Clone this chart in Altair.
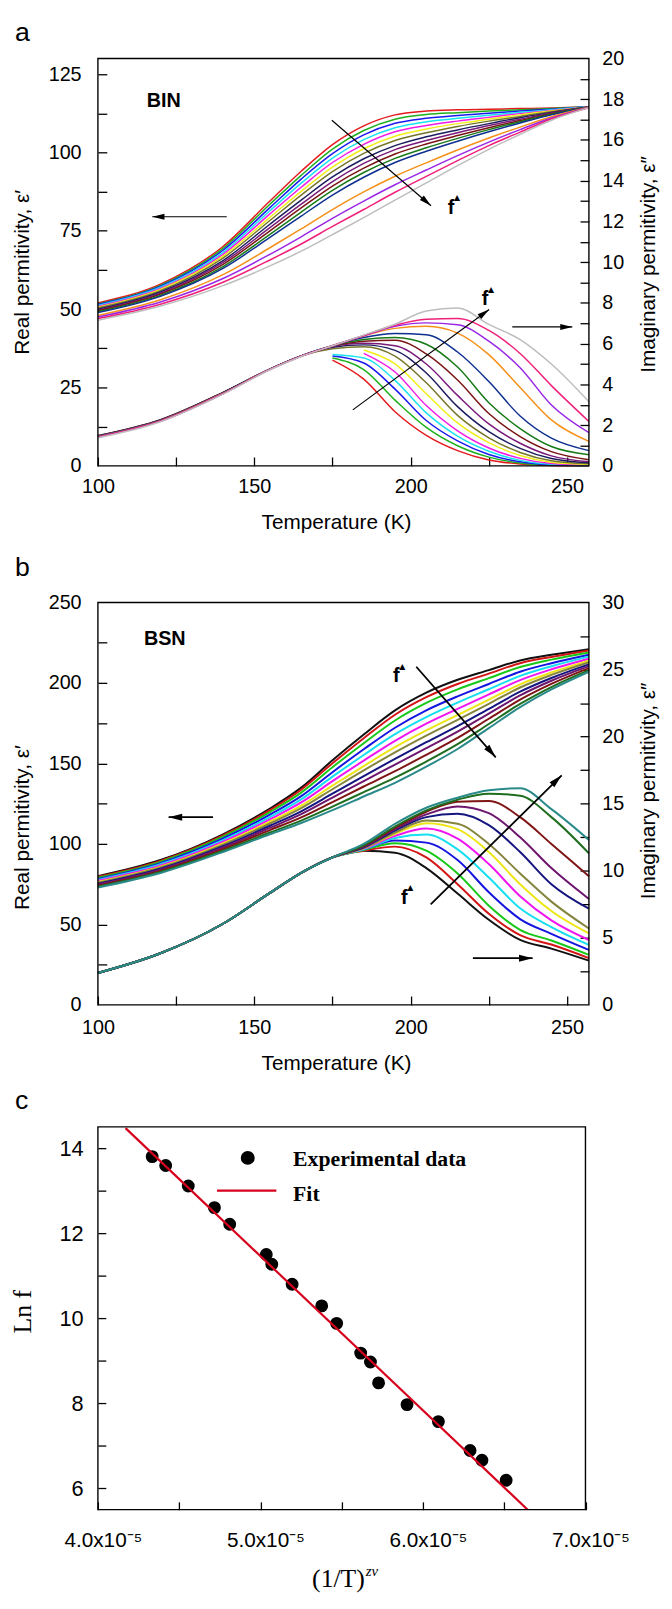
import altair as alt
import pandas as pd

# ---------------- data ----------------
T_GRID = [100, 120, 140, 155, 165, 175, 185, 195, 205, 215, 225, 235, 245, 257]

A_COLORS = ["#e41a1c", "#1fb01f", "#1a1af0", "#19e3f0", "#f01ae6", "#f2ee1a",
            "#76762a", "#1c1c60", "#7a1a7a", "#7a1414", "#177a17", "#0d2f8f",
            "#f5901a", "#9a26e6", "#f0207a", "#bdbdbd"]

A_REAL = [
    [52.0, 58.0, 70.0, 84.5, 94.0, 102.5, 108.5, 112.0, 113.2, 113.6, 113.8, 114.0, 114.2, 114.6],
    [51.7, 57.6, 69.4, 83.5, 92.7, 101.1, 107.0, 110.6, 112.1, 112.7, 113.2, 113.6, 114.0, 114.6],
    [51.5, 57.3, 68.8, 82.4, 91.5, 99.6, 105.6, 109.3, 110.9, 111.8, 112.5, 113.2, 113.8, 114.6],
    [51.2, 57.0, 68.1, 81.4, 90.2, 98.2, 104.1, 107.9, 109.8, 110.9, 111.9, 112.8, 113.6, 114.6],
    [50.9, 56.6, 67.5, 80.4, 88.9, 96.8, 102.6, 106.6, 108.6, 110.0, 111.2, 112.4, 113.4, 114.5],
    [50.6, 56.3, 66.9, 79.3, 87.6, 95.3, 101.2, 105.2, 107.5, 109.2, 110.6, 112.0, 113.2, 114.5],
    [50.4, 55.9, 66.3, 78.3, 86.4, 93.9, 99.7, 103.8, 106.3, 108.3, 110.0, 111.5, 113.0, 114.5],
    [50.0, 55.5, 65.5, 77.1, 84.8, 92.2, 98.0, 102.2, 105.0, 107.2, 109.2, 111.1, 112.8, 114.5],
    [49.7, 55.1, 64.9, 76.0, 83.5, 90.7, 96.5, 100.9, 103.8, 106.3, 108.6, 110.6, 112.6, 114.5],
    [49.5, 54.8, 64.3, 75.0, 82.3, 89.3, 95.0, 99.5, 102.7, 105.4, 107.9, 110.2, 112.4, 114.5],
    [49.2, 54.4, 63.6, 73.9, 81.0, 87.9, 93.6, 98.1, 101.5, 104.5, 107.3, 109.8, 112.2, 114.4],
    [48.9, 54.1, 63.0, 72.9, 79.7, 86.4, 92.1, 96.8, 100.4, 103.6, 106.6, 109.4, 112.0, 114.4],
    [48.0, 53.0, 61.0, 69.6, 75.6, 81.8, 87.4, 92.4, 96.7, 100.8, 104.6, 108.1, 111.4, 114.4],
    [47.5, 52.3, 59.8, 67.5, 73.1, 79.0, 84.5, 89.7, 94.4, 99.0, 103.3, 107.3, 111.0, 114.4],
    [47.0, 51.6, 58.6, 65.7, 70.8, 76.4, 81.8, 87.3, 92.4, 97.4, 102.2, 106.5, 110.7, 114.3],
    [46.5, 51.0, 57.5, 63.8, 68.5, 73.8, 79.2, 84.8, 90.3, 95.8, 101.0, 105.8, 110.3, 114.3],
]

# low-frequency loss curves start near their maxima (None = no reading)
A_IMAG = [
    [None, None, None, None, None, 5.19, 4.26, 2.66, 1.50, 0.75, 0.29, 0.09, 0.02, 0.00],
    [None, None, None, None, None, 5.30, 4.73, 3.23, 1.89, 0.99, 0.43, 0.14, 0.04, 0.01],
    [None, None, None, None, None, 5.39, 5.05, 3.77, 2.23, 1.23, 0.56, 0.20, 0.06, 0.02],
    [None, None, None, None, None, 5.47, 5.30, 4.20, 2.60, 1.46, 0.72, 0.27, 0.08, 0.03],
    [None, None, None, None, None, None, 5.52, 4.61, 2.96, 1.72, 0.88, 0.37, 0.12, 0.05],
    [None, None, None, None, None, None, 5.69, 5.01, 3.54, 2.11, 1.14, 0.51, 0.18, 0.07],
    [1.49, 2.27, 3.61, 4.75, 5.39, 5.75, 5.85, 5.39, 4.08, 2.48, 1.38, 0.66, 0.25, 0.10],
    [1.48, 2.26, 3.60, 4.75, 5.40, 5.82, 5.94, 5.67, 4.56, 2.91, 1.68, 0.86, 0.36, 0.15],
    [1.47, 2.25, 3.60, 4.75, 5.40, 5.86, 6.02, 5.90, 5.00, 3.46, 2.06, 1.11, 0.49, 0.20],
    [1.46, 2.24, 3.59, 4.75, 5.40, 5.88, 6.12, 6.17, 5.50, 4.22, 2.57, 1.44, 0.70, 0.30],
    [1.45, 2.23, 3.58, 4.75, 5.40, 5.90, 6.20, 6.30, 5.97, 4.85, 3.10, 1.83, 0.95, 0.55],
    [1.44, 2.22, 3.57, 4.75, 5.40, 5.90, 6.30, 6.50, 6.44, 5.59, 4.14, 2.45, 1.36, 0.75],
    [1.43, 2.21, 3.56, 4.74, 5.39, 5.90, 6.38, 6.75, 6.85, 6.52, 5.46, 3.85, 2.26, 1.20],
    [1.42, 2.20, 3.55, 4.74, 5.39, 5.90, 6.39, 6.85, 7.02, 6.93, 6.12, 4.82, 2.99, 1.63],
    [1.41, 2.19, 3.54, 4.73, 5.38, 5.90, 6.40, 6.90, 7.20, 7.23, 6.65, 5.52, 3.94, 2.18],
    [1.38, 2.17, 3.52, 4.72, 5.37, 5.90, 6.42, 6.95, 7.60, 7.75, 6.95, 6.20, 5.00, 3.15],
]

B_COLORS = ["#111111", "#d41515", "#18c818", "#1515e0", "#15dff0", "#f015f0",
            "#eee515", "#84843c", "#15157f", "#6e166e", "#7f1515", "#1f6e1f", "#2a8a8a"]

B_REAL = [
    [80.0, 90.0, 106.0, 122.0, 135.0, 152.0, 168.0, 183.0, 194.0, 202.0, 208.0, 214.0, 217.5, 221.0],
    [79.6, 89.5, 105.3, 121.0, 133.7, 150.1, 165.7, 180.3, 191.2, 199.4, 205.8, 212.3, 216.2, 220.2],
    [79.0, 88.9, 104.5, 119.8, 131.9, 147.7, 162.6, 176.7, 187.6, 196.0, 203.0, 209.9, 214.5, 219.0],
    [78.3, 88.1, 103.4, 118.2, 129.7, 144.6, 158.8, 172.2, 183.0, 191.7, 199.4, 207.0, 212.3, 217.6],
    [77.7, 87.4, 102.4, 116.7, 127.7, 141.8, 155.3, 168.2, 178.8, 187.8, 196.1, 204.4, 210.4, 216.4],
    [77.1, 86.6, 101.4, 115.3, 125.8, 139.0, 151.8, 164.1, 174.7, 183.9, 192.9, 201.8, 208.5, 215.1],
    [76.4, 85.9, 100.4, 113.8, 123.8, 136.2, 148.4, 160.1, 170.5, 180.1, 189.6, 199.2, 206.5, 213.9],
    [75.9, 85.4, 99.6, 112.7, 122.2, 134.0, 145.7, 156.9, 167.3, 177.1, 187.1, 197.2, 205.0, 212.9],
    [75.3, 84.6, 98.6, 111.3, 120.3, 131.2, 142.2, 152.9, 163.2, 173.2, 183.9, 194.6, 203.1, 211.6],
    [74.8, 84.0, 97.8, 110.0, 118.5, 128.8, 139.1, 149.3, 159.5, 169.8, 181.0, 192.3, 201.4, 210.5],
    [74.1, 83.3, 96.8, 108.6, 116.5, 126.0, 135.7, 145.2, 155.4, 165.9, 177.8, 189.6, 199.4, 209.2],
    [73.5, 82.6, 95.8, 107.1, 114.5, 123.2, 132.2, 141.2, 151.2, 162.0, 174.5, 187.0, 197.5, 208.0],
    [73.0, 82.0, 95.0, 106.0, 113.0, 121.0, 129.5, 138.0, 148.0, 159.0, 172.0, 185.0, 196.0, 207.0],
]

B_IMAG = [
    [2.38, 3.85, 6.05, 8.35, 9.85, 11.0, 11.50, 11.35, 10.20, 8.30, 6.35, 4.85, 4.20, 3.30],
    [2.38, 3.85, 6.05, 8.35, 9.85, 11.0, 11.50, 11.80, 11.00, 9.00, 6.80, 5.20, 4.50, 3.49],
    [2.38, 3.85, 6.05, 8.35, 9.85, 11.0, 11.55, 12.05, 11.50, 9.80, 7.40, 5.60, 4.80, 3.73],
    [2.38, 3.85, 6.05, 8.35, 9.85, 11.0, 11.60, 12.25, 12.10, 10.80, 8.40, 6.40, 5.30, 4.10],
    [2.38, 3.85, 6.05, 8.35, 9.85, 11.0, 11.60, 12.45, 12.70, 11.60, 9.50, 7.20, 5.80, 4.47],
    [2.38, 3.85, 6.05, 8.35, 9.85, 11.0, 11.65, 12.60, 13.15, 12.40, 10.50, 8.10, 6.30, 4.84],
    [2.38, 3.85, 6.05, 8.35, 9.85, 11.0, 11.70, 12.75, 13.55, 13.10, 11.40, 9.00, 7.00, 5.33],
    [2.38, 3.85, 6.05, 8.35, 9.85, 11.0, 11.70, 12.85, 13.75, 13.50, 12.00, 9.80, 7.70, 5.70],
    [2.38, 3.85, 6.05, 8.35, 9.85, 11.0, 11.75, 13.00, 14.00, 14.25, 13.40, 11.40, 9.00, 7.17],
    [2.38, 3.85, 6.05, 8.35, 9.85, 11.0, 11.80, 13.10, 14.20, 14.80, 14.30, 12.50, 10.20, 7.90],
    [2.38, 3.85, 6.05, 8.35, 9.85, 11.0, 11.85, 13.20, 14.40, 15.15, 15.20, 14.00, 12.00, 9.60],
    [2.38, 3.85, 6.05, 8.35, 9.85, 11.0, 11.90, 13.30, 14.50, 15.30, 15.75, 15.60, 14.00, 11.30],
    [2.38, 3.85, 6.05, 8.35, 9.85, 11.0, 12.00, 13.50, 14.70, 15.45, 16.00, 16.15, 14.60, 12.30],
]

C_X = [4.334e-5, 4.417e-5, 4.556e-5, 4.717e-5, 4.811e-5, 5.036e-5, 5.070e-5, 5.195e-5,
       5.377e-5, 5.469e-5, 5.617e-5, 5.677e-5, 5.727e-5, 5.902e-5, 6.095e-5, 6.290e-5,
       6.363e-5, 6.512e-5]
C_Y = [13.80, 13.59, 13.11, 12.60, 12.21, 11.50, 11.27, 10.80, 10.29, 9.88, 9.18, 8.97,
       8.48, 7.97, 7.57, 6.89, 6.66, 6.19]
FIT_X = [4.17e-5, 6.674e-5]
FIT_Y = [14.47, 5.39]

# annotations in data coordinates: arrows (x1, y1, x2, y2, head angle) and labels
A_ARROWS_REAL = [(141.2, 79.5, 117.4, 79.5, 270), (174.8, 110.3, 206.5, 83.0, 131)]
A_ARROWS_IMAG = [(181.5, 2.75, 225.1, 7.68, 53.5), (232.5, 6.82, 251.7, 6.82, 90)]
A_F_REAL = (212.9, 82.3)
A_F_IMAG = (223.8, 8.17)
A_SAMPLE = ("BIN", 115.6, 116.5)

B_ARROWS_REAL = [(136.8, 116.6, 122.6, 116.6, 270), (201.8, 210.1, 227.2, 153.8, 139)]
B_ARROWS_IMAG = [(206.4, 7.5, 248.3, 17.12, 45.6), (219.9, 3.48, 239.0, 3.48, 90)]
B_F_REAL = (195.4, 204.0)
B_F_IMAG = (198.0, 7.98)
B_SAMPLE = ("BSN", 114.7, 227.0)

C_LEG_POINT = (4.922e-5, 13.77)
C_LEG_TEXT = [("Experimental data", 5.201e-5, 13.74), ("Fit", 5.201e-5, 12.91)]
C_LEG_LINE = (4.733e-5, 5.098e-5, 13.0)

# ---------------- layout (pixels inside the plot area) ----------------
W = 497.0
H = 1469.0
BAND_A = (0.0, 412.4)
BAND_B = (550.7, 958.0)
BAND_C = (1081.4, 1468.9)
WC = 493.5

FONT = "Liberation Sans"
SERIF = "Liberation Serif"
HEAD = "M0,0L0.5,2L-0.5,2Z"


def sc(dom, rng):
    return alt.Scale(domain=dom, range=rng, nice=False, zero=False)


def series_df(rows, colors, tag):
    recs = []
    for i, vals in enumerate(rows):
        for t, v in zip(T_GRID, vals):
            recs.append({"T": t, "v": v, "s": "%s%02d" % (tag, i), "c": colors[i]})
    return pd.DataFrame(recs)


def dual_layers(tag, real_rows, imag_rows, colors, band, lmax, lvals, lminor, rmax, rvals,
                rminor, sample, arrows_r, arrows_i, f_r, f_i, line_w, arrow_w, head_size,
                x_lpad, x_ty, l_ty, r_ty):
    xsc = sc([100, 257], [0, W])
    lsc = sc([0, lmax], [band[1], band[0]])
    rsc = sc([0, rmax], [band[1], band[0]])
    xoff = band[1] - H
    lab = dict(labelFont=FONT, labelFontSize=20, labelColor="black", titleFont=FONT,
               titleFontSize=21, titleFontWeight="normal", titleColor="black",
               grid=False, domain=False, ticks=False, labelFlush=False, labelOverlap=False,
               titleAlign="center", titleBaseline="middle")
    tk = dict(labels=False, domain=False, grid=False, tickSize=9,
              tickColor="black", tickWidth=1.3, title=None)

    real = alt.Chart(series_df(real_rows, colors, tag)).mark_line(
        interpolate="monotone", strokeWidth=line_w).encode(
        x=alt.X("T:Q", scale=xsc, axis=alt.Axis(
            orient="bottom", offset=xoff, values=[100, 150, 200, 250], labelPadding=x_lpad,
            title="Temperature (K)", titleX=241, titleY=x_ty, **lab)),
        y=alt.Y("v:Q", scale=lsc, axis=alt.Axis(
            orient="left", values=lvals, labelPadding=17, title="Real permitivity, ε′",
            titleX=-76, titleY=l_ty, titleAngle=270, **lab)),
        color=alt.Color("c:N", scale=None), detail="s:N",
    )
    imag = alt.Chart(series_df(imag_rows, colors, tag)).mark_line(
        interpolate="monotone", strokeWidth=line_w).encode(
        x=alt.X("T:Q", scale=xsc, axis=None),
        y=alt.Y("v:Q", scale=rsc, axis=alt.Axis(
            orient="right", values=rvals, labelPadding=13, title="Imaginary permitivity, ε″",
            titleX=60, titleY=r_ty, titleAngle=270, **lab)),
        color=alt.Color("c:N", scale=None), detail="s:N",
    )
    pt = pd.DataFrame({"T": [150.0], "v": [1.0]})
    ticks_l = alt.Chart(pt).mark_point(opacity=0).encode(
        x=alt.X("T:Q", scale=xsc, axis=alt.Axis(
            orient="bottom", offset=xoff - 9, values=[100, 125, 150, 175, 200, 225, 250], **tk)),
        y=alt.Y("v:Q", scale=lsc, axis=alt.Axis(orient="left", offset=-9, values=lminor, **tk)),
    )
    ticks_r = alt.Chart(pt).mark_point(opacity=0).encode(
        x=alt.X("T:Q", scale=xsc, axis=None),
        y=alt.Y("v:Q", scale=rsc, axis=alt.Axis(orient="right", offset=-9, values=rminor, **tk)),
    )
    samp = alt.Chart(pd.DataFrame({"T": [sample[1]], "v": [sample[2]], "t": [sample[0]]})).mark_text(
        font=FONT, fontSize=20, fontWeight="bold", align="left", baseline="middle",
        color="black").encode(
        x=alt.X("T:Q", scale=xsc, axis=None), y=alt.Y("v:Q", scale=lsc, axis=None), text="t:N")

    def arrow_layers(rows, ysc):
        d = pd.DataFrame(rows, columns=["x1", "y1", "x2", "y2", "ang"])
        line = alt.Chart(d).mark_rule(color="black", strokeWidth=arrow_w).encode(
            x=alt.X("x1:Q", scale=xsc, axis=None), y=alt.Y("y1:Q", scale=ysc, axis=None),
            x2="x2:Q", y2="y2:Q")
        head = alt.Chart(d).mark_point(shape=HEAD, filled=True, color="black", opacity=1,
                                       size=head_size, strokeWidth=0).encode(
            x=alt.X("x2:Q", scale=xsc, axis=None), y=alt.Y("y2:Q", scale=ysc, axis=None),
            angle=alt.Angle("ang:Q", scale=None))
        return [line, head]

    def f_layers(pos, ysc):
        d = pd.DataFrame({"T": [pos[0]], "v": [pos[1]]})
        enc = dict(x=alt.X("T:Q", scale=xsc, axis=None), y=alt.Y("v:Q", scale=ysc, axis=None))
        f = alt.Chart(d).mark_text(text="f", font=FONT, fontSize=20, fontWeight="bold",
                                   align="center", baseline="middle", color="black").encode(**enc)
        tri = alt.Chart(d).mark_text(text="▲", font="DejaVu Sans", fontSize=8, dx=6, dy=-10,
                                     align="center", baseline="middle", color="black").encode(**enc)
        return [f, tri]

    return ([real, imag, ticks_l, ticks_r, samp]
            + arrow_layers(arrows_r, lsc) + arrow_layers(arrows_i, rsc)
            + f_layers(f_r, lsc) + f_layers(f_i, rsc))


def c_layers():
    xsc = sc([4e-5, 7e-5], [0, WC])
    ysc = sc([5.5, 14.5], [BAND_C[1], BAND_C[0]])
    tk = dict(labels=False, domain=False, grid=False, tickSize=8,
              tickColor="black", tickWidth=1.3, title=None)
    pts = alt.Chart(pd.DataFrame({"x": C_X, "y": C_Y})).mark_circle(
        size=170, color="black", opacity=1).encode(
        x=alt.X("x:Q", scale=xsc, axis=alt.Axis(
            orient="bottom", values=[4e-5, 5e-5, 6e-5, 7e-5],
            labelExpr="format(datum.value*100000, '.1f') + 'x10⁻⁵'",
            labelFont=FONT, labelFontSize=21, labelColor="black", labelPadding=20,
            labelOffset=5, labelFlush=False, labelOverlap=False,
            title="(1/T)", titleFont=SERIF, titleFontSize=26, titleFontWeight="normal",
            titleColor="black", titleX=243, titleY=70, titleAlign="center",
            titleBaseline="middle", grid=False, domain=False, ticks=False)),
        y=alt.Y("y:Q", scale=ysc, axis=alt.Axis(
            orient="left", values=[6, 8, 10, 12, 14], labelFont=FONT, labelFontSize=22,
            labelColor="black", labelPadding=15, labelFlush=False, title="Ln f",
            titleFont=SERIF, titleFontSize=26, titleFontWeight="normal", titleColor="black",
            titleX=-76, titleY=1268, titleAngle=270, titleAlign="center",
            titleBaseline="middle", grid=False, domain=False, ticks=False)),
    )
    fit = alt.Chart(pd.DataFrame({"x": FIT_X, "y": FIT_Y})).mark_line(
        color="#d6001c", strokeWidth=2.2, clip=True).encode(
        x=alt.X("x:Q", scale=xsc, axis=None), y=alt.Y("y:Q", scale=ysc, axis=None))
    ticks = alt.Chart(pd.DataFrame({"x": [5e-5], "y": [10.0]})).mark_point(opacity=0).encode(
        x=alt.X("x:Q", scale=xsc, axis=alt.Axis(
            orient="bottom", offset=-8,
            values=[4e-5, 4.5e-5, 5e-5, 5.5e-5, 6e-5, 6.5e-5, 7e-5], **tk)),
        y=alt.Y("y:Q", scale=ysc, axis=alt.Axis(
            orient="left", offset=-8, values=[6, 7, 8, 9, 10, 11, 12, 13, 14], **tk)),
    )
    leg_pt = alt.Chart(pd.DataFrame({"x": [C_LEG_POINT[0]], "y": [C_LEG_POINT[1]]})).mark_circle(
        size=200, color="black", opacity=1).encode(
        x=alt.X("x:Q", scale=xsc, axis=None), y=alt.Y("y:Q", scale=ysc, axis=None))
    leg_tx = alt.Chart(pd.DataFrame({"t": [r[0] for r in C_LEG_TEXT],
                                     "x": [r[1] for r in C_LEG_TEXT],
                                     "y": [r[2] for r in C_LEG_TEXT]})).mark_text(
        font=SERIF, fontSize=22, fontWeight="bold", align="left", baseline="middle",
        color="black").encode(
        x=alt.X("x:Q", scale=xsc, axis=None), y=alt.Y("y:Q", scale=ysc, axis=None), text="t:N")
    leg_ln = alt.Chart(pd.DataFrame({"x": [C_LEG_LINE[0]], "x2": [C_LEG_LINE[1]],
                                     "y": [C_LEG_LINE[2]]})).mark_rule(
        color="#d6001c", strokeWidth=2.4).encode(
        x=alt.X("x:Q", scale=xsc, axis=None), x2="x2:Q", y=alt.Y("y:Q", scale=ysc, axis=None))
    sup = alt.Chart(pd.DataFrame({"k": [0]})).mark_text(
        text="zν", font=SERIF, fontSize=15, fontStyle="italic", align="left",
        baseline="middle", color="black").encode(x=alt.value(271), y=alt.value(1531))
    return [pts, fit, ticks, leg_pt, leg_tx, leg_ln, sup]


frames = alt.Chart(pd.DataFrame({
    "x1": [0, 0, 0], "x2": [W, W, WC],
    "y1": [BAND_A[0], BAND_B[0], BAND_C[0]], "y2": [BAND_A[1], BAND_B[1], BAND_C[1]],
})).mark_rect(fillOpacity=0, stroke="black", strokeWidth=1.4).encode(
    x=alt.X("x1:Q", scale=None, axis=None), x2="x2:Q",
    y=alt.Y("y1:Q", scale=None, axis=None), y2="y2:Q")

letters = alt.Chart(pd.DataFrame({
    "x": [-84, -84, -84], "y": [-17.3, 523.7, 1063.7], "t": ["a", "b", "c"]})).mark_text(
    font=FONT, fontSize=27, align="left", baseline="alphabetic", color="black").encode(
    x=alt.X("x:Q", scale=None, axis=None), y=alt.Y("y:Q", scale=None, axis=None), text="t:N")

layers_a = dual_layers("a", A_REAL, A_IMAG, A_COLORS, BAND_A, 130, [0, 25, 50, 75, 100, 125],
                       [12.5, 25, 37.5, 50, 62.5, 75, 87.5, 100, 112.5, 125],
                       20, [0, 2, 4, 6, 8, 10, 12, 14, 16, 18, 20], list(range(1, 20)),
                       A_SAMPLE, A_ARROWS_REAL, A_ARROWS_IMAG, A_F_REAL, A_F_IMAG,
                       1.5, 1.2, 150, 11, 57, 216, 208)
layers_b = dual_layers("b", B_REAL, B_IMAG, B_COLORS, BAND_B, 250, [0, 50, 100, 150, 200, 250],
                       [25, 50, 75, 100, 125, 150, 175, 200, 225],
                       30, [0, 5, 10, 15, 20, 25, 30],
                       [2.5, 5, 7.5, 10, 12.5, 15, 17.5, 20, 22.5, 25, 27.5],
                       B_SAMPLE, B_ARROWS_REAL, B_ARROWS_IMAG, B_F_REAL, B_F_IMAG,
                       2.0, 1.8, 190, 13, 59.5, 778, 741)

chart = alt.layer(*(layers_a + layers_b + c_layers() + [frames, letters])).resolve_scale(
    x="independent", y="independent").resolve_axis(
    x="independent", y="independent").properties(
    width=W, height=H,
    autosize=alt.AutoSizeParams(type="none"),
    padding={"left": 91, "top": 41.3, "right": 76, "bottom": 92},
).configure_view(stroke="transparent")

chart.save("out.html", embed_options={"renderer": "svg", "actions": False})
